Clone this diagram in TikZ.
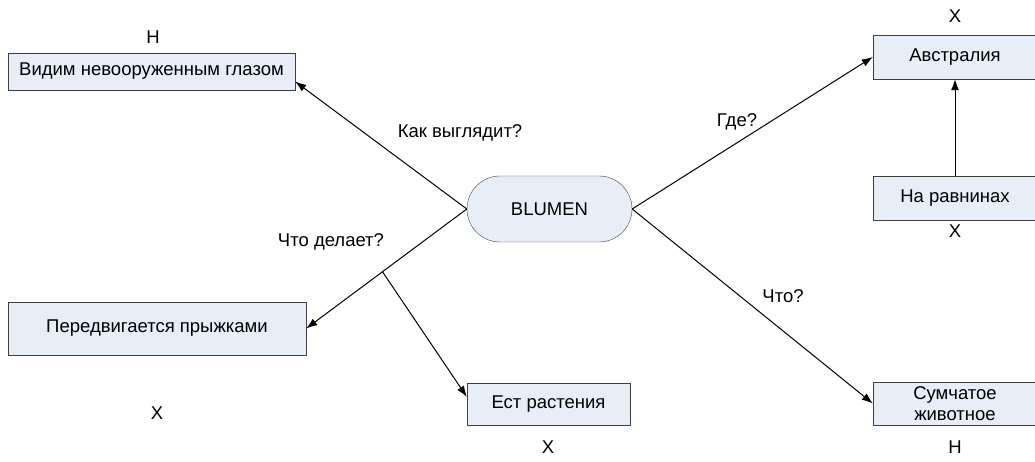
\documentclass[tikz,border=0pt]{standalone}
\usepackage{fontspec}
\setmainfont{Liberation Sans}
\usetikzlibrary{arrows.meta,shapes.misc,calc}
\definecolor{boxfill}{RGB}{232,238,248}
\definecolor{boxline}{RGB}{64,64,64}
\begin{document}
\begin{tikzpicture}
  [x=1pt,y=-1pt,font=\fontsize{18.5}{21}\selectfont,
   every node/.style={inner sep=0pt},
   box/.style={draw=boxline,fill=boxfill,rectangle,align=center},
   hub/.style={draw=boxline,fill=boxfill,rounded rectangle},
   link/.style={-{Latex[length=11pt,width=8pt]},line width=1pt}]
  \useasboundingbox (0,0) rectangle (1035,462);

  \node[hub,minimum width=165pt,minimum height=66pt] (blumen) at (549.5,209) {BLUMEN};

  \node[box,minimum width=287pt,minimum height=37pt] (vid)   at (151.5,71.5) {Видим невооруженным глазом};
  \node[box,minimum width=298pt,minimum height=53pt] (pered) at (157,328.5)  {Передвигается прыжками};
  \node[box,minimum width=163pt,minimum height=42pt] (est)   at (548.5,404)  {Ест растения};
  \node[box,minimum width=164pt,minimum height=44pt] (aus)   at (955,57)     {Австралия};
  \node[box,minimum width=164pt,minimum height=44pt] (plain) at (955,198)    {На равнинах};
  \node[box,minimum width=164pt,minimum height=43pt] (sum)   at (955,403.5)  {Сумчатое\\животное};

  % marks
  \node (mvid)   at (153,37)  {Н};
  \node (mpered) at (157,413) {Х};
  \node (mest)   at (548,447) {Х};
  \node (maus)   at (955,16)  {Х};
  \node (mplain) at (955,231) {Х};
  \node (msum)   at (955,447) {Н};

  % questions
  \node (qlook) at (460,133) {Как выглядит?};
  \node (qdo)   at (331,242) {Что делает?};
  \node (qwhere) at (737,122) {Где?};
  \node (qwhat) at (783,296) {Что?};

  \coordinate (fork) at ($(blumen.west)!0.525!(pered.east)$);

  \foreach \src/\dst in {blumen.west/vid.-4, blumen.west/pered.east,
      fork/est.175, blumen.east/aus.west, blumen.east/sum.west, plain.north/aus.south}
    \draw[link] (\src) -- (\dst);

\end{tikzpicture}
\end{document}
